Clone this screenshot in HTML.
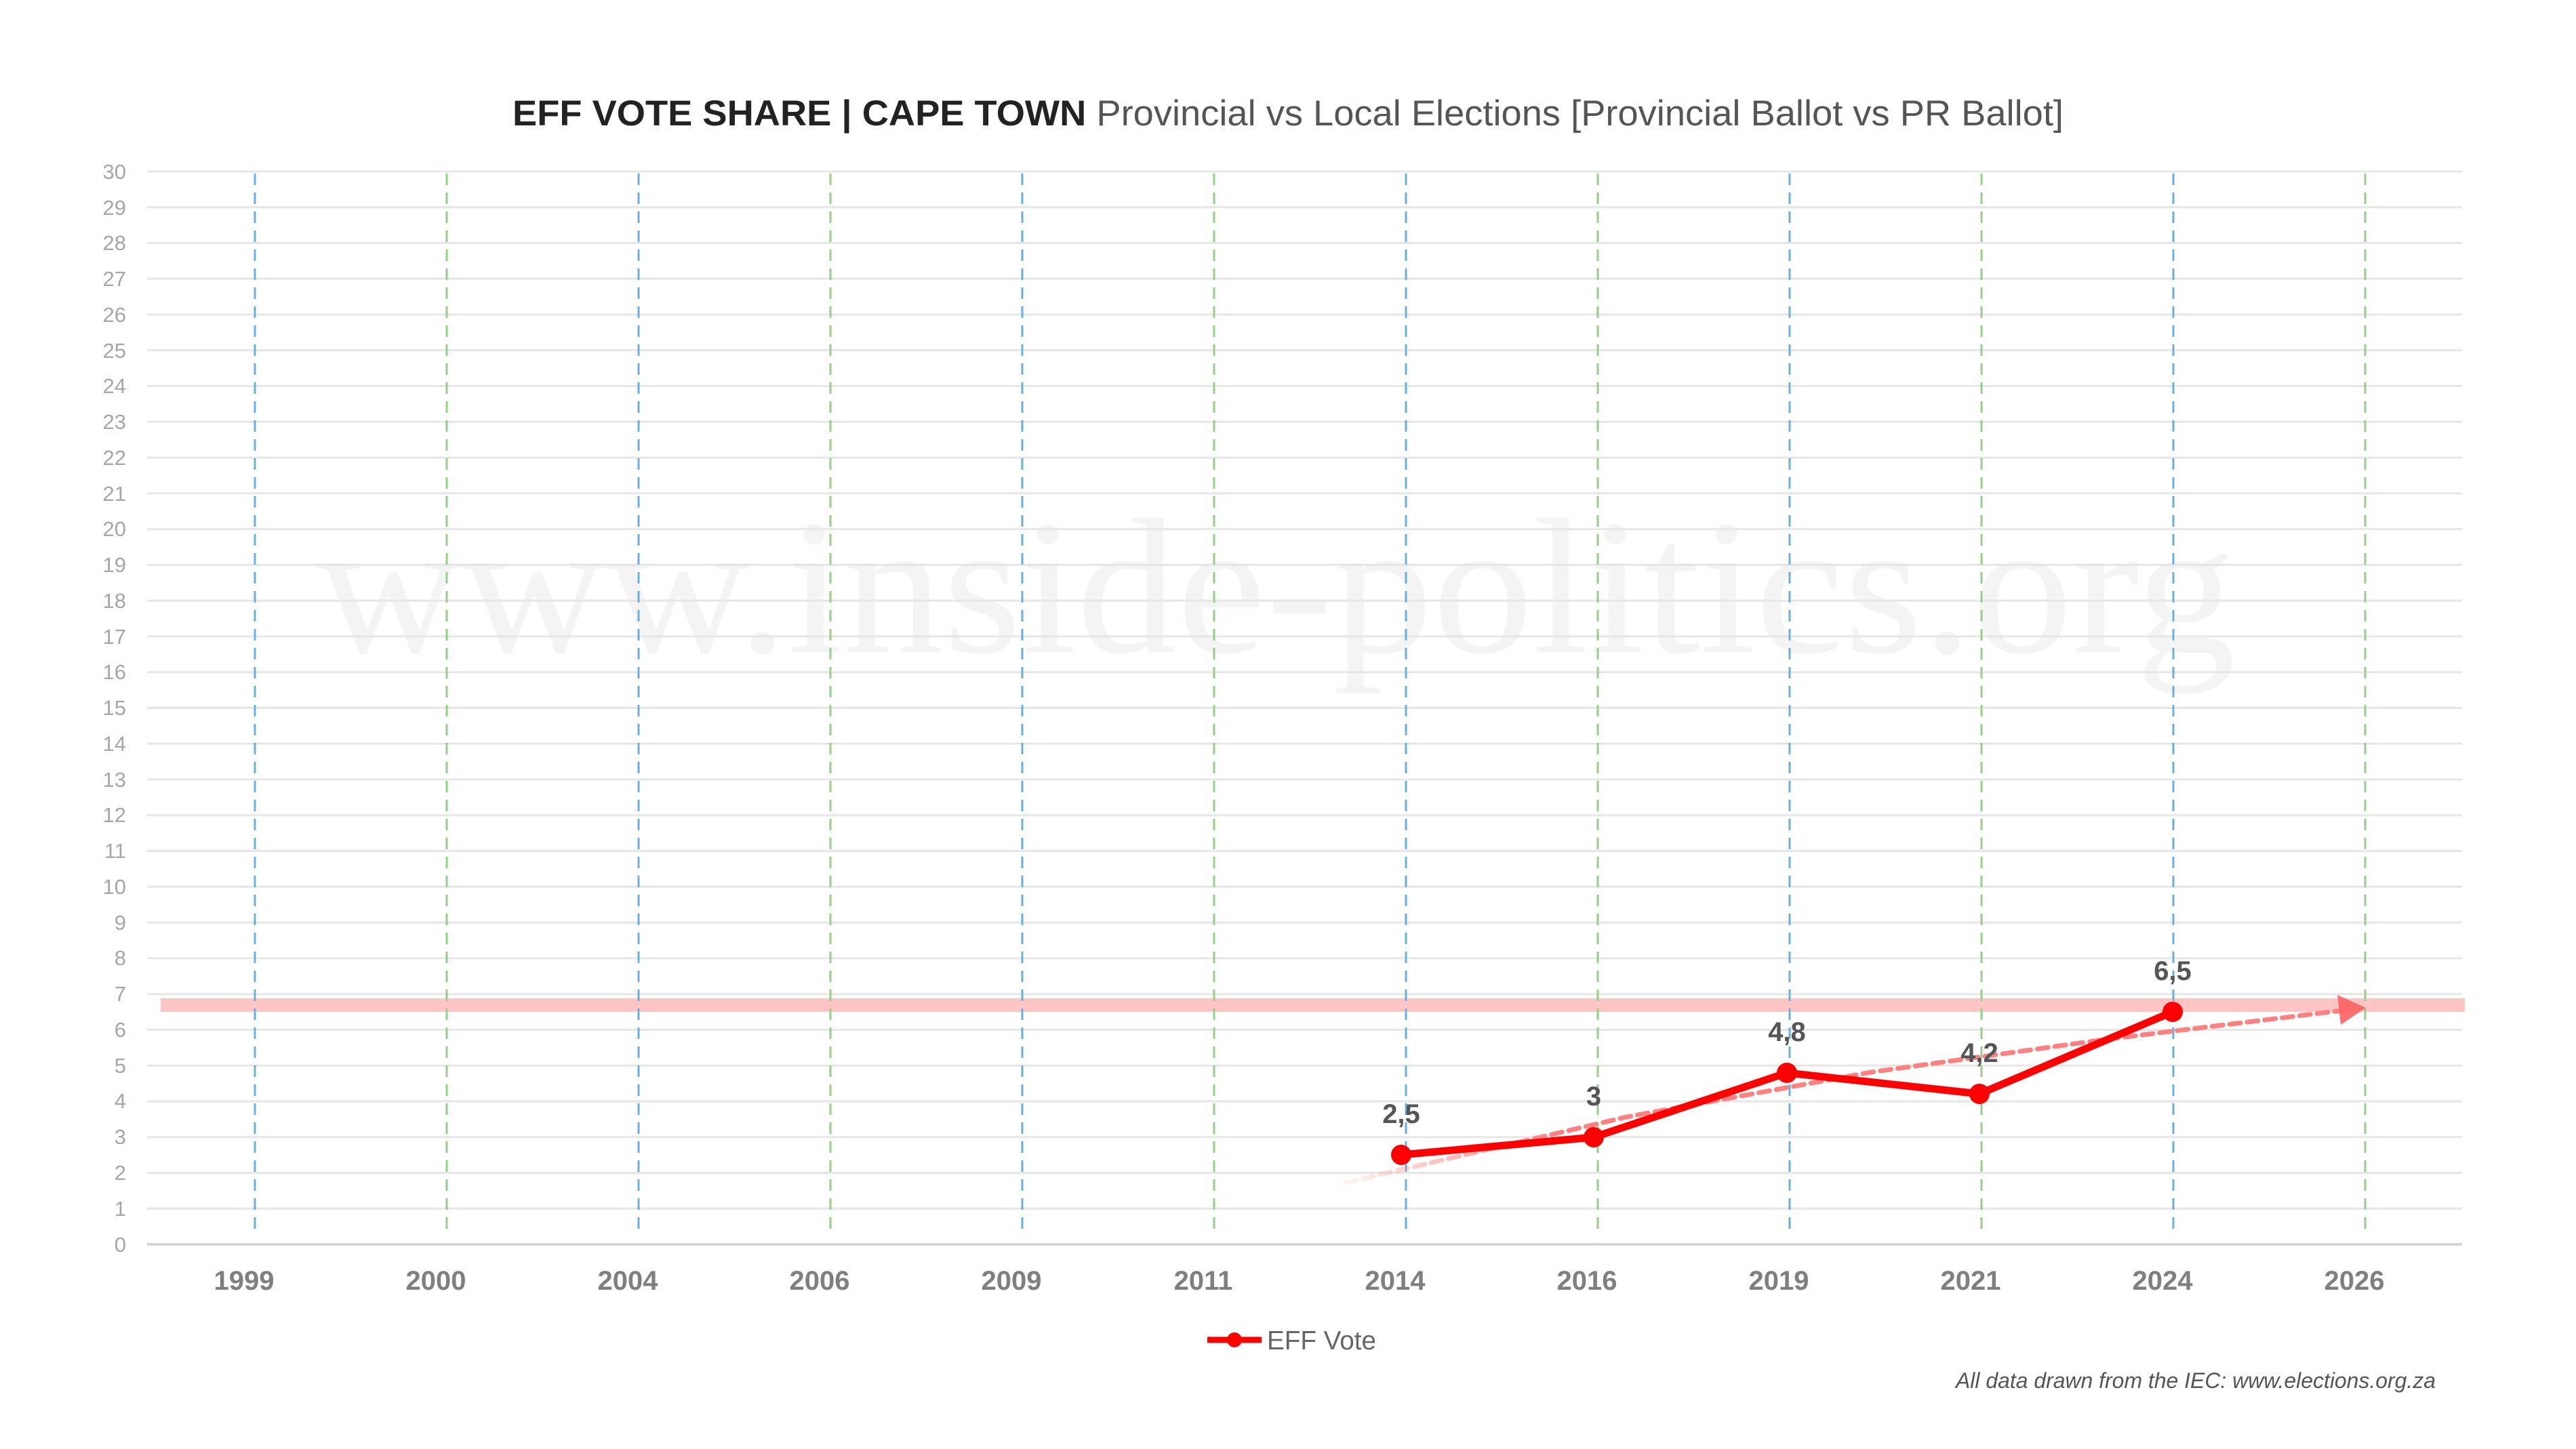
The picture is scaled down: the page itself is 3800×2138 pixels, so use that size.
<!DOCTYPE html>
<html><head><meta charset="utf-8"><style>html,body{margin:0;padding:0;background:#fff}svg{display:block}</style></head>
<body>
<svg width="3800" height="2138" viewBox="0 0 3800 2138" xmlns="http://www.w3.org/2000/svg" font-family="Liberation Sans, sans-serif">
<defs>
<linearGradient id="fade" gradientUnits="userSpaceOnUse" x1="1990" y1="0" x2="2300" y2="0">
<stop offset="0" stop-color="#ff8080" stop-opacity="0.1"/>
<stop offset="1" stop-color="#ff8080" stop-opacity="1"/>
</linearGradient>
</defs>
<rect width="3800" height="2138" fill="#fff"/>
<text x="467" y="962" font-family="Liberation Serif, serif" font-size="285" fill="#f4f4f4" textLength="2831" lengthAdjust="spacingAndGlyphs">www.inside-politics.org</text>
<g stroke="#e6e6e6" stroke-width="3">
<line x1="217" y1="253" x2="3632" y2="253"/><line x1="217" y1="305.8" x2="3632" y2="305.8"/><line x1="217" y1="358.5" x2="3632" y2="358.5"/><line x1="217" y1="411.3" x2="3632" y2="411.3"/><line x1="217" y1="464.1" x2="3632" y2="464.1"/><line x1="217" y1="516.8" x2="3632" y2="516.8"/><line x1="217" y1="569.6" x2="3632" y2="569.6"/><line x1="217" y1="622.4" x2="3632" y2="622.4"/><line x1="217" y1="675.2" x2="3632" y2="675.2"/><line x1="217" y1="727.9" x2="3632" y2="727.9"/><line x1="217" y1="780.7" x2="3632" y2="780.7"/><line x1="217" y1="833.5" x2="3632" y2="833.5"/><line x1="217" y1="886.2" x2="3632" y2="886.2"/><line x1="217" y1="939" x2="3632" y2="939"/><line x1="217" y1="991.8" x2="3632" y2="991.8"/><line x1="217" y1="1044.5" x2="3632" y2="1044.5"/><line x1="217" y1="1097.3" x2="3632" y2="1097.3"/><line x1="217" y1="1150.1" x2="3632" y2="1150.1"/><line x1="217" y1="1202.9" x2="3632" y2="1202.9"/><line x1="217" y1="1255.6" x2="3632" y2="1255.6"/><line x1="217" y1="1308.4" x2="3632" y2="1308.4"/><line x1="217" y1="1361.2" x2="3632" y2="1361.2"/><line x1="217" y1="1413.9" x2="3632" y2="1413.9"/><line x1="217" y1="1466.7" x2="3632" y2="1466.7"/><line x1="217" y1="1519.5" x2="3632" y2="1519.5"/><line x1="217" y1="1572.2" x2="3632" y2="1572.2"/><line x1="217" y1="1625" x2="3632" y2="1625"/><line x1="217" y1="1677.8" x2="3632" y2="1677.8"/><line x1="217" y1="1730.5" x2="3632" y2="1730.5"/><line x1="217" y1="1783.3" x2="3632" y2="1783.3"/>
</g>
<line x1="217" y1="1836" x2="3632" y2="1836" stroke="#d6d6d6" stroke-width="4"/>
<g font-size="31" fill="#a6a6a6" text-anchor="end">
<text x="186" y="264">30</text><text x="186" y="317">29</text><text x="186" y="369">28</text><text x="186" y="422">27</text><text x="186" y="475">26</text><text x="186" y="528">25</text><text x="186" y="580">24</text><text x="186" y="633">23</text><text x="186" y="686">22</text><text x="186" y="739">21</text><text x="186" y="791">20</text><text x="186" y="844">19</text><text x="186" y="897">18</text><text x="186" y="950">17</text><text x="186" y="1002">16</text><text x="186" y="1055">15</text><text x="186" y="1108">14</text><text x="186" y="1161">13</text><text x="186" y="1213">12</text><text x="186" y="1266">11</text><text x="186" y="1319">10</text><text x="186" y="1372">9</text><text x="186" y="1424">8</text><text x="186" y="1477">7</text><text x="186" y="1530">6</text><text x="186" y="1583">5</text><text x="186" y="1635">4</text><text x="186" y="1688">3</text><text x="186" y="1741">2</text><text x="186" y="1794">1</text><text x="186" y="1847">0</text>
</g>
<rect x="237" y="1473" width="3399" height="20" fill="#ffc4c4"/>
<g stroke-width="3" stroke-dasharray="17 11">
<line x1="376" y1="256" x2="376" y2="1823" stroke="#6aaede"/>
<line x1="659" y1="256" x2="659" y2="1823" stroke="#93cf85"/>
<line x1="942" y1="256" x2="942" y2="1823" stroke="#6aaede"/>
<line x1="1225" y1="256" x2="1225" y2="1823" stroke="#93cf85"/>
<line x1="1508" y1="256" x2="1508" y2="1823" stroke="#6aaede"/>
<line x1="1791" y1="256" x2="1791" y2="1823" stroke="#93cf85"/>
<line x1="2074" y1="256" x2="2074" y2="1823" stroke="#6aaede"/>
<line x1="2357" y1="256" x2="2357" y2="1823" stroke="#93cf85"/>
<line x1="2640" y1="256" x2="2640" y2="1823" stroke="#6aaede"/>
<line x1="2923" y1="256" x2="2923" y2="1823" stroke="#93cf85"/>
<line x1="3206" y1="256" x2="3206" y2="1823" stroke="#6aaede"/>
<line x1="3489" y1="256" x2="3489" y2="1823" stroke="#93cf85"/>
</g>
<g font-size="40" font-weight="bold" fill="#7f7f7f" text-anchor="middle">
<text x="360" y="1903">1999</text><text x="643" y="1903">2000</text><text x="926" y="1903">2004</text><text x="1209" y="1903">2006</text><text x="1492" y="1903">2009</text><text x="1775" y="1903">2011</text><text x="2058" y="1903">2014</text><text x="2341" y="1903">2016</text><text x="2624" y="1903">2019</text><text x="2907" y="1903">2021</text><text x="3190" y="1903">2024</text><text x="3473" y="1903">2026</text>
</g>
<path d="M1985,1745 L2400,1648 L2760,1582 L3111,1533 L3455,1491" fill="none" stroke="url(#fade)" stroke-width="7" stroke-dasharray="16 10" stroke-linecap="round"/>
<polygon points="3490,1487 3448,1468 3453,1512" fill="#ff6060" opacity="0.9"/>
<polyline points="2067,1704 2351,1678 2636,1583 2920,1614 3205,1493" fill="none" stroke="#ff0000" stroke-width="11" stroke-linejoin="round"/>
<g fill="#ff0000">
<circle cx="2067" cy="1704" r="15"/><circle cx="2351" cy="1678" r="15"/><circle cx="2636" cy="1583" r="15"/><circle cx="2920" cy="1614" r="15"/><circle cx="3205" cy="1493" r="15"/>
</g>
<g font-size="40" font-weight="bold" fill="#555" text-anchor="middle">
<text x="2067" y="1657">2,5</text><text x="2351" y="1631">3</text><text x="2636" y="1536">4,8</text><text x="2920" y="1567">4,2</text><text x="3205" y="1446">6,5</text>
</g>
<text x="756" y="185" font-size="53" fill="#555" textLength="2288" lengthAdjust="spacingAndGlyphs"><tspan font-weight="bold" fill="#222">EFF VOTE SHARE | CAPE TOWN</tspan> Provincial vs Local Elections [Provincial Ballot vs PR Ballot]</text>
<line x1="1781" y1="1977" x2="1861" y2="1977" stroke="#ff0000" stroke-width="9"/>
<circle cx="1821" cy="1977" r="11" fill="#ff0000"/>
<text x="1869" y="1991" font-size="39" fill="#666" textLength="161" lengthAdjust="spacingAndGlyphs">EFF Vote</text>
<text x="2885" y="2048" font-size="32" font-style="italic" fill="#555" textLength="708" lengthAdjust="spacingAndGlyphs">All data drawn from the IEC: www.elections.org.za</text>
</svg>
</body></html>
